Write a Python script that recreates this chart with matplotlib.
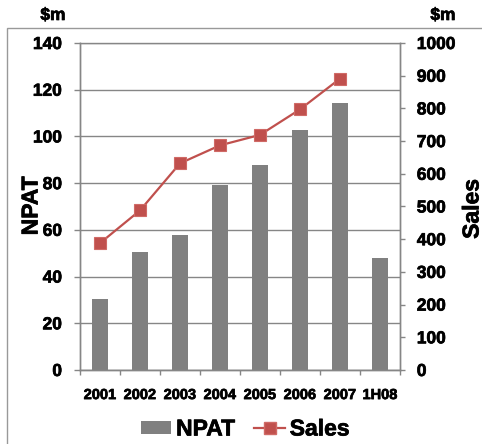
import matplotlib
matplotlib.use("Agg")
import matplotlib.pyplot as plt
import matplotlib.patheffects as pe
from matplotlib.patches import Rectangle
from matplotlib.lines import Line2D
from matplotlib.patches import Patch
import numpy as np

categories = ["2001", "2002", "2003", "2004", "2005", "2006", "2007", "1H08"]
npat = [30.4, 50.6, 57.6, 79.3, 87.9, 102.6, 114.2, 48.1]
sales_years = ["2001", "2002", "2003", "2004", "2005", "2006", "2007"]
sales = [388, 488, 632, 687, 719, 797, 891]
left_ticks = [0, 20, 40, 60, 80, 100, 120, 140]
right_ticks = [0, 100, 200, 300, 400, 500, 600, 700, 800, 900, 1000]

plt.rcParams['font.family'] = ['Liberation Sans', 'DejaVu Sans']
plt.rcParams['font.weight'] = 'bold'

W, H = 482, 444
fig = plt.figure(figsize=(W / 100, H / 100), dpi=100)
fig.patch.set_facecolor('white')

bold_fx = [pe.withStroke(linewidth=0.5, foreground='black')]

# outer chart frame
fig.add_artist(Rectangle((7 / W, -0.1), 1.2, (H - 28.5) / H + 0.1, transform=fig.transFigure,
                         fill=False, edgecolor='#999999', linewidth=1.0))

ax = fig.add_axes([80 / W, (H - 370) / H, 320 / W, 327 / H])
ax2 = ax.twinx()

grey = '#868686'
x = np.arange(len(categories))
ax.bar(x, npat, width=0.4, color='#808080', zorder=3)
ax.set_ylim(0, 140)
ax.set_xlim(-0.5, len(categories) - 0.5)
ax.set_yticks(left_ticks)
ax.yaxis.grid(True, color=grey, linewidth=1.0, zorder=0)
ax.set_axisbelow(True)
ax.set_xticks(x)
ax.set_xticklabels(categories, fontsize=10.5, fontweight='bold')
ax.set_xticks(np.arange(-0.5, len(categories)), minor=True)
ax.tick_params(axis='x', which='major', length=0, pad=13)
ax.tick_params(axis='x', which='minor', length=3.6, width=1, color=grey, direction='out')
ax.tick_params(axis='y', length=4.5, width=1, color=grey, direction='out', pad=8.5, labelsize=12.5)
for lbl in ax.get_yticklabels() + ax.get_xticklabels():
    lbl.set_fontweight('bold')
    lbl.set_path_effects(bold_fx)

sx = [categories.index(s) for s in sales_years]
ax2.plot(sx, sales, color='#C0504D', linewidth=1.6, marker='s', markersize=8.5,
         markerfacecolor='#C0504D', markeredgecolor='#D06A66', markeredgewidth=0.8, zorder=4)
ax2.set_ylim(0, 1000)
ax2.set_yticks(right_ticks)
ax2.tick_params(axis='y', length=3.6, width=1, color=grey, direction='out', pad=8.5, labelsize=12.5)
for lbl in ax2.get_yticklabels():
    lbl.set_fontweight('bold')
    lbl.set_path_effects(bold_fx)

for a in (ax, ax2):
    for s in a.spines.values():
        s.set_color(grey)
        s.set_linewidth(1.0)
    a.spines['top'].set_visible(False)

ax.axhline(140, color=grey, linewidth=1.0, zorder=0, clip_on=False)

fig.text(31 / W, 1 - 206 / H, "NPAT", rotation=90, ha='center', va='center',
         fontsize=16.5, fontweight='bold', path_effects=bold_fx)
fig.text(472 / W, 1 - 209 / H, "Sales", rotation=90, ha='center', va='center',
         fontsize=16.5, fontweight='bold', path_effects=bold_fx)
fig.text(53 / W, 1 - 15.5 / H, "$m", ha='center', va='center', fontsize=12.5, fontweight='bold',
         path_effects=bold_fx)
fig.text(443 / W, 1 - 15.5 / H, "$m", ha='center', va='center', fontsize=12.5, fontweight='bold',
         path_effects=bold_fx)

handles = [Patch(facecolor='#808080', edgecolor='none'),
           Line2D([0], [0], color='#C0504D', linewidth=1.6, marker='s', markersize=8,
                  markerfacecolor='#C0504D', markeredgecolor='#D06A66')]
leg = fig.legend(handles, ["NPAT", "Sales"], loc='center', bbox_to_anchor=(245 / W, 1 - 429 / H),
                 ncol=2, frameon=False, prop={'size': 16.5, 'weight': 'bold'},
                 handlelength=1.35, handleheight=0.5, handletextpad=0.2, columnspacing=0.85,
                 borderpad=0, borderaxespad=0)
for t in leg.get_texts():
    t.set_path_effects(bold_fx)

fig.savefig("out.png", dpi=100)
